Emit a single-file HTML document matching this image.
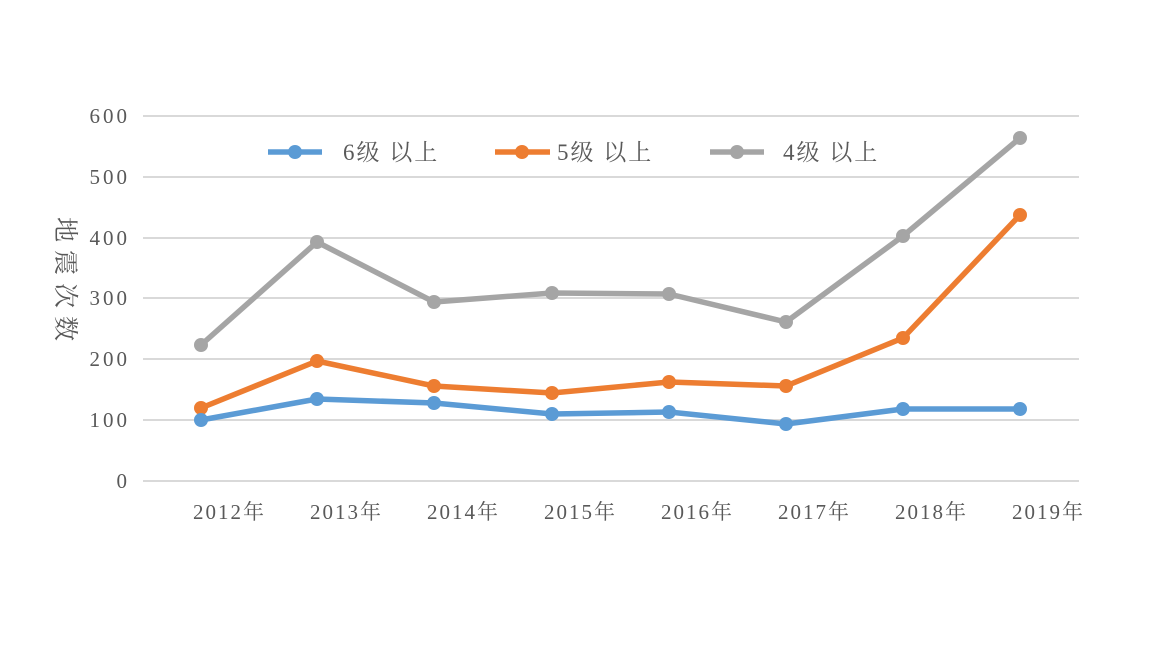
<!DOCTYPE html>
<html><head><meta charset="utf-8"><style>
html,body{margin:0;padding:0;background:#fff;}
svg{display:block;}
text{font-family:"Liberation Serif","Noto Serif CJK SC",serif;fill:#595959;}
</style></head><body>
<svg width="1161" height="649" viewBox="0 0 1161 649" xmlns="http://www.w3.org/2000/svg">
<g stroke="#d9d9d9" stroke-width="2">
<line x1="143" y1="116" x2="1079" y2="116"/>
<line x1="143" y1="177" x2="1079" y2="177"/>
<line x1="143" y1="238" x2="1079" y2="238"/>
<line x1="143" y1="298" x2="1079" y2="298"/>
<line x1="143" y1="359" x2="1079" y2="359"/>
<line x1="143" y1="420" x2="1079" y2="420"/>
<line x1="143" y1="481" x2="1079" y2="481"/>
</g>
<g font-size="21" text-anchor="end" letter-spacing="3">
<text x="130" y="123">600</text>
<text x="130" y="184">500</text>
<text x="130" y="245">400</text>
<text x="130" y="305">300</text>
<text x="130" y="366">200</text>
<text x="130" y="427">100</text>
<text x="130" y="488">0</text>
</g>
<g font-size="21" letter-spacing="2">
<text x="193" y="519">2012年</text>
<text x="310" y="519">2013年</text>
<text x="427" y="519">2014年</text>
<text x="544" y="519">2015年</text>
<text x="661" y="519">2016年</text>
<text x="778" y="519">2017年</text>
<text x="895" y="519">2018年</text>
<text x="1012" y="519">2019年</text>
</g>
<text font-size="25" transform="translate(57,217) rotate(90)" letter-spacing="8">地震次数</text>
<g fill="none" stroke-width="5.5" stroke-linejoin="round">
<polyline stroke="#a5a5a5" points="201,345 317,242 434,302 552,293 669,294 786,322 903,236 1020,138"/>
<polyline stroke="#ed7d31" points="201,408 317,361 434,386 552,393 669,382 786,386 903,338 1020,215"/>
<polyline stroke="#5b9bd5" points="201,420 317,399 434,403 552,414 669,412 786,424 903,409 1020,409"/>
</g>
<g fill="#a5a5a5"><circle cx="201" cy="345" r="7"/><circle cx="317" cy="242" r="7"/><circle cx="434" cy="302" r="7"/><circle cx="552" cy="293" r="7"/><circle cx="669" cy="294" r="7"/><circle cx="786" cy="322" r="7"/><circle cx="903" cy="236" r="7"/><circle cx="1020" cy="138" r="7"/></g>
<g fill="#ed7d31"><circle cx="201" cy="408" r="7"/><circle cx="317" cy="361" r="7"/><circle cx="434" cy="386" r="7"/><circle cx="552" cy="393" r="7"/><circle cx="669" cy="382" r="7"/><circle cx="786" cy="386" r="7"/><circle cx="903" cy="338" r="7"/><circle cx="1020" cy="215" r="7"/></g>
<g fill="#5b9bd5"><circle cx="201" cy="420" r="7"/><circle cx="317" cy="399" r="7"/><circle cx="434" cy="403" r="7"/><circle cx="552" cy="414" r="7"/><circle cx="669" cy="412" r="7"/><circle cx="786" cy="424" r="7"/><circle cx="903" cy="409" r="7"/><circle cx="1020" cy="409" r="7"/></g>
<g stroke-width="5.5">
<line x1="268" y1="152" x2="322" y2="152" stroke="#5b9bd5"/>
<line x1="495" y1="152" x2="550" y2="152" stroke="#ed7d31"/>
<line x1="710" y1="152" x2="764" y2="152" stroke="#a5a5a5"/>
</g>
<circle cx="295" cy="152" r="7" fill="#5b9bd5"/>
<circle cx="522" cy="152" r="7" fill="#ed7d31"/>
<circle cx="737" cy="152" r="7" fill="#a5a5a5"/>
<g font-size="23" letter-spacing="2">
<text x="343" y="160">6级 以上</text>
<text x="557" y="160">5级 以上</text>
<text x="783" y="160">4级 以上</text>
</g>
</svg>
</body></html>
